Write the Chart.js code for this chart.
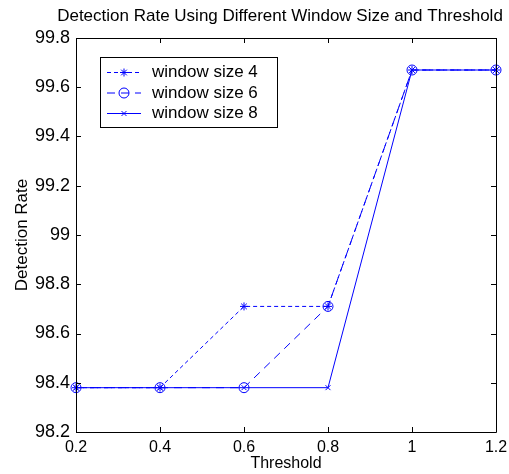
<!DOCTYPE html>
<html>
<head>
<meta charset="utf-8">
<script src="https://cdn.jsdelivr.net/npm/chart.js@4.4.1/dist/chart.umd.min.js"></script>
<style>
html, body { margin: 0; padding: 0; background: #fff; }
#wrap { width: 509px; height: 474px; }
</style>
</head>
<body>
<div id="wrap"><canvas id="chart" width="509" height="474"></canvas></div>
<script>
//DATA
const thresholds   = [0.2, 0.4, 0.6, 0.8, 1.0, 1.2];
const windowSize4  = [98.38, 98.38, 98.71, 98.71, 99.67, 99.67];
const windowSize6  = [98.38, 98.38, 98.38, 98.71, 99.67, 99.67];
const windowSize8  = [98.38, 98.38, 98.38, 98.38, 99.67, 99.67];
const seriesNames  = ['window size 4', 'window size 6', 'window size 8'];
const xTickValues  = [0.2, 0.4, 0.6, 0.8, 1, 1.2];
const yTickValues  = [98.2, 98.4, 98.6, 98.8, 99, 99.2, 99.4, 99.6, 99.8];

const chartTitle   = 'Detection Rate Using Different Window Size and Threshold';
const FONT = '"Liberation Sans", Arial, sans-serif';
const BLUE = 'rgb(0,0,255)';

function toPoints(values){
    return thresholds.map((t, i) => ({x: t, y: values[i]}));
}

function makeSet(label, values, style, radius, dash){
    return {
        label: label,
        data: toPoints(values),
        borderColor: BLUE,
        backgroundColor: 'rgba(0,0,0,0)',
        borderWidth: 1,
        borderDash: dash,
        pointStyle: style,
        pointRadius: radius,
        pointBorderColor: BLUE,
        pointBackgroundColor: 'rgba(0,0,0,0)',
        pointBorderWidth: 1,
        tension: 0,
        clip: false
    };
}

// MATLAB style box + inward ticks + title
const matlabAxes = {
    id: 'matlabAxes',
    afterDraw(chart){
        const {ctx, chartArea: a, scales} = chart;
        ctx.save();
        ctx.strokeStyle = '#000';
        ctx.lineWidth = 1;
        ctx.beginPath();
        ctx.rect(Math.round(a.left) + 0.5, Math.round(a.top) + 0.5,
                 Math.round(a.right - a.left), Math.round(a.bottom - a.top));
        xTickValues.forEach(v => {
            const px = Math.round(scales.x.getPixelForValue(v)) + 0.5;
            ctx.moveTo(px, a.bottom); ctx.lineTo(px, a.bottom - 5);
            ctx.moveTo(px, a.top);    ctx.lineTo(px, a.top + 5);
        });
        yTickValues.forEach(v => {
            const py = Math.round(scales.y.getPixelForValue(v)) + 0.5;
            ctx.moveTo(a.left, py);  ctx.lineTo(a.left + 5, py);
            ctx.moveTo(a.right, py); ctx.lineTo(a.right - 5, py);
        });
        ctx.stroke();

        ctx.fillStyle = '#000';
        ctx.font = '17px ' + FONT;
        ctx.textAlign = 'center';
        ctx.textBaseline = 'middle';
        ctx.fillText(chartTitle, 280, 16);
        ctx.restore();
    }
};

// legend box inside the axes, like MATLAB legend
const boxLegend = {
    id: 'boxLegend',
    afterDraw(chart){
        const ctx = chart.ctx;
        const box = {x: 100.5, y: 57.5, w: 177, h: 70};
        ctx.save();
        ctx.fillStyle = '#fff';
        ctx.strokeStyle = '#000';
        ctx.lineWidth = 1;
        ctx.fillRect(box.x, box.y, box.w, box.h);
        ctx.strokeRect(box.x, box.y, box.w, box.h);

        chart.data.datasets.forEach((ds, i) => {
            const y = 72.5 + i * 20.5;
            ctx.strokeStyle = ds.borderColor;
            ctx.lineWidth = ds.borderWidth;
            ctx.setLineDash(ds.borderDash || []);
            ctx.beginPath();
            ctx.moveTo(107, y); ctx.lineTo(141, y);
            ctx.stroke();
            ctx.setLineDash([]);
            ctx.fillStyle = 'rgba(0,0,0,0)';
            ctx.strokeStyle = ds.pointBorderColor;
            Chart.helpers.drawPoint(ctx, {
                pointStyle: ds.pointStyle, radius: ds.pointRadius,
                borderWidth: 1, rotation: 0
            }, 124, y);

            ctx.fillStyle = '#000';
            ctx.font = '17px ' + FONT;
            ctx.textAlign = 'left';
            ctx.textBaseline = 'middle';
            ctx.fillText(ds.label, 152, y);
        });
        ctx.restore();
    }
};

function DrawChart(){
    const canvas = document.querySelector('#chart');
    const data = {
        datasets: [
            makeSet(seriesNames[0], windowSize4, 'star', 4, [4, 3]),
            makeSet(seriesNames[1], windowSize6, 'circle', 5, [8, 6]),
            makeSet(seriesNames[2], windowSize8, 'crossRot', 3.5, [])
        ]
    };
    const config = {
        type: 'line',
        data: data,
        options: {
            responsive: false,
            animation: false,
            devicePixelRatio: 1,
            layout: { padding: { top: 38, right: 13, left: 0, bottom: 0 } },
            plugins: {
                legend: { display: false },
                title: { display: false },
                tooltip: { enabled: false }
            },
            scales: {
                x: {
                    type: 'linear',
                    min: 0.2,
                    max: 1.2,
                    afterBuildTicks: s => { s.ticks = xTickValues.map(v => ({value: v})); },
                    afterFit: s => { s.height = 42; s.paddingLeft = 0; s.paddingRight = 0; },
                    grid: { display: false, drawTicks: false },
                    border: { display: false },
                    ticks: {
                        padding: 6,
                        color: '#000',
                        font: { family: FONT, size: 16 },
                        maxRotation: 0,
                        callback: v => String(v)
                    },
                    title: {
                        display: true,
                        text: 'Threshold',
                        color: '#000',
                        font: { family: FONT, size: 16 },
                        padding: { top: 0, bottom: 1 }
                    }
                },
                y: {
                    type: 'linear',
                    min: 98.2,
                    max: 99.8,
                    afterBuildTicks: s => { s.ticks = yTickValues.map(v => ({value: v})); },
                    afterFit: s => { s.width = 76; s.paddingTop = 0; s.paddingBottom = 0; },
                    grid: { display: false, drawTicks: false },
                    border: { display: false },
                    ticks: {
                        padding: 6,
                        color: '#000',
                        font: { family: FONT, size: 18 },
                        callback: v => String(Math.round(v * 10) / 10)
                    },
                    title: {
                        display: true,
                        text: 'Detection Rate',
                        color: '#000',
                        font: { family: FONT, size: 17 },
                        padding: { top: 12, bottom: 0 }
                    }
                }
            }
        },
        plugins: [matlabAxes, boxLegend]
    };
    new Chart(canvas, config);
}

DrawChart();
</script>
</body>
</html>
